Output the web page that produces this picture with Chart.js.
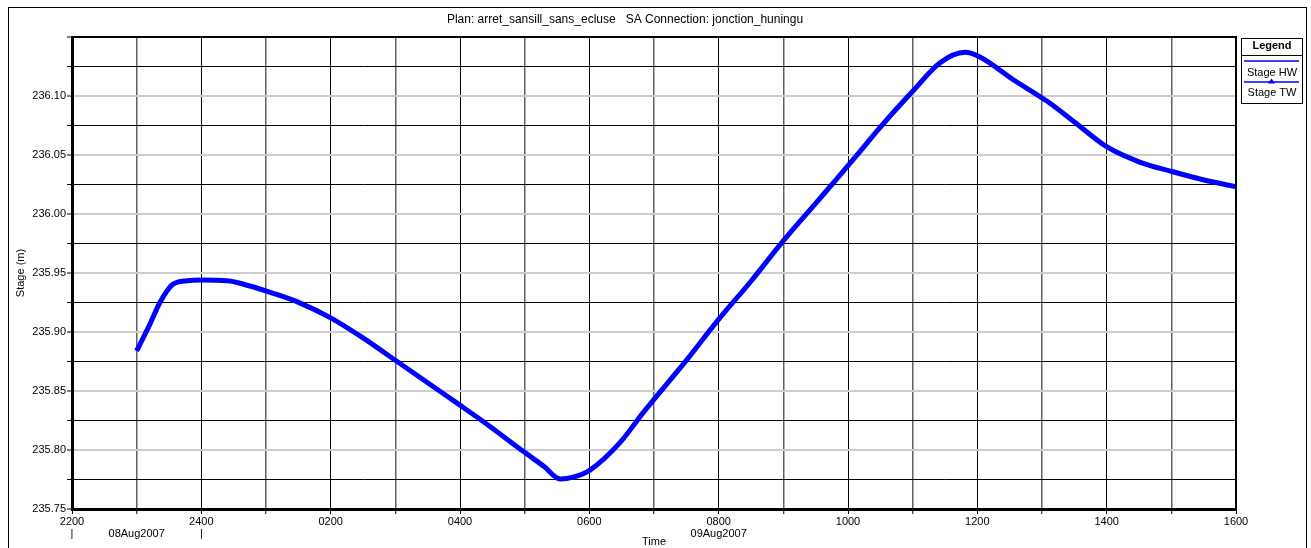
<!DOCTYPE html>
<html>
<head>
<meta charset="utf-8">
<script src="https://cdn.jsdelivr.net/npm/chart.js@4.4.0/dist/chart.umd.min.js"></script>
<style>
html, body { margin: 0; padding: 0; background: #fff; }
</style>
</head>
<body>
<canvas id="stageChart" width="1311" height="548"></canvas>
<script>
const chartTitle = 'Plan: arret_sansill_sans_ecluse   SA Connection: jonction_huningu';

// hours counted from 08Aug2007 2200
const hours = [1.0, 1.2, 1.36, 1.55, 1.78, 2.0, 2.4, 2.75, 3.1, 3.53,
    4.0, 4.5, 5.0, 5.5, 6.0, 6.31, 7.0, 7.3, 7.55, 7.75,
    8.01, 8.47, 8.83, 9.5, 9.99, 10.5, 10.98, 11.5, 11.83, 12.2,
    12.49, 13.0, 13.42, 13.81, 14.04, 14.55, 15.08, 15.5, 16.0,
    16.51, 17.01, 17.49, 18.0];

const stageHW = [235.884, 235.906, 235.925, 235.940, 235.9435, 235.944, 235.9435, 235.939, 235.933, 235.9245,
    235.912, 235.895, 235.876, 235.857, 235.838, 235.826, 235.798, 235.786, 235.7755, 235.777,
    235.783, 235.806, 235.8315, 235.876, 235.910, 235.943, 235.976, 236.009, 236.030, 236.054,
    236.073, 236.104, 236.128, 236.137, 236.133, 236.114, 236.0955, 236.078, 236.057,
    236.044, 236.036, 236.029, 236.023];

// tail water sits right on top of head water in this plot
const stageTW = stageHW;

const xTickLabels = ['2200', '', '2400', '', '0200', '', '0400', '', '0600', '', '0800', '', '1000', '', '1200', '', '1400', '', '1600'];
const dateLabels = {1: '08Aug2007', 10: '09Aug2007'};
const dayMarks = [0, 2];

const FONT = 'Liberation Sans, Arial, sans-serif';

function toPoints(ys) {
    return hours.map((h, i) => ({x: h, y: ys[i]}));
}

const framePlugin = {
    id: 'frame',
    afterDraw(chart) {
        const ctx = chart.ctx;
        const a = chart.chartArea;
        ctx.save();
        // outer frame
        ctx.strokeStyle = '#000';
        ctx.lineWidth = 1;
        ctx.strokeRect(8.5, 7.5, 1298, 600);

        // top and right border of plot
        ctx.lineWidth = 2;
        ctx.beginPath();
        ctx.moveTo(a.left, a.top);
        ctx.lineTo(a.right, a.top);
        ctx.lineTo(a.right, a.bottom);
        ctx.stroke();

        // title
        ctx.fillStyle = '#000';
        ctx.font = '12px ' + FONT;
        ctx.textAlign = 'center';
        ctx.textBaseline = 'middle';
        ctx.fillText(chartTitle, 625, 20);

        // legend box
        ctx.lineWidth = 1;
        ctx.strokeRect(1241.5, 38.5, 61, 65);
        ctx.beginPath();
        ctx.moveTo(1241, 55.5);
        ctx.lineTo(1302, 55.5);
        ctx.stroke();
        ctx.font = 'bold 11px ' + FONT;
        ctx.fillText('Legend', 1272, 46);
        ctx.font = '11px ' + FONT;
        ctx.strokeStyle = '#0000ff';
        ctx.lineWidth = 1.5;
        ctx.beginPath();
        ctx.moveTo(1244, 61);
        ctx.lineTo(1299, 61);
        ctx.moveTo(1244, 82);
        ctx.lineTo(1299, 82);
        ctx.stroke();
        ctx.fillStyle = '#0000ff';
        ctx.beginPath();
        ctx.moveTo(1271.5, 78.5);
        ctx.lineTo(1275, 83.5);
        ctx.lineTo(1268, 83.5);
        ctx.closePath();
        ctx.fill();
        ctx.fillStyle = '#000';
        ctx.fillText('Stage HW', 1272, 73);
        ctx.fillText('Stage TW', 1272, 93);
        ctx.restore();
    }
};

new Chart(document.getElementById('stageChart').getContext('2d'), {
    type: 'line',
    data: {
        datasets: [
            {
                label: 'Stage HW',
                data: toPoints(stageHW),
                borderColor: '#0000ff',
                borderWidth: 5,
                pointRadius: 0,
                fill: false,
                cubicInterpolationMode: 'monotone'
            },
            {
                label: 'Stage TW',
                data: toPoints(stageTW),
                borderColor: '#0000ff',
                borderWidth: 2,
                pointRadius: 0,
                fill: false,
                cubicInterpolationMode: 'monotone'
            }
        ]
    },
    options: {
        responsive: false,
        animation: false,
        layout: {padding: {top: 37, right: 75, left: 0, bottom: 0}},
        plugins: {legend: {display: false}, tooltip: {enabled: false}},
        scales: {
            x: {
                type: 'linear',
                min: 0,
                max: 18,
                afterFit(scale) { scale.height = 39; },
                ticks: {
                    stepSize: 1,
                    autoSkip: false,
                    maxRotation: 0,
                    padding: 2,
                    color: '#000',
                    font: {family: FONT, size: 11, lineHeight: 1.1},
                    callback(value) {
                        const lbl = xTickLabels[value] || '';
                        if (dayMarks.includes(value)) return [lbl, '|'];
                        if (dateLabels[value]) return [lbl, dateLabels[value]];
                        return lbl;
                    }
                },
                grid: {
                    color: (c) => (c.tick && c.tick.value % 2 === 1) ? '#606060' : '#000',
                    lineWidth: (c) => (c.tick && c.tick.value % 2 === 1) ? 1.5 : 1,
                    tickLength: 5,
                    tickColor: '#000',
                    tickWidth: 1
                },
                border: {color: '#000', width: 3},
                title: {
                    display: true,
                    text: 'Time',
                    color: '#000',
                    font: {family: FONT, size: 11, lineHeight: 1.1},
                    padding: {top: -2, bottom: 0}
                }
            },
            y: {
                min: 235.75,
                max: 236.15,
                afterFit(scale) { scale.width = 72; },
                ticks: {
                    stepSize: 0.025,
                    padding: 1,
                    color: '#000',
                    font: {family: FONT, size: 11},
                    callback(value, index) {
                        return index % 2 === 0 && index < 16 ? value.toFixed(2) : '';
                    }
                },
                grid: {
                    color: (c) => c.index % 2 === 0 ? '#cccccc' : '#000',
                    lineWidth: (c) => c.index % 2 === 0 ? 2 : 1,
                    tickLength: 5,
                    tickColor: '#000',
                    tickWidth: 1
                },
                border: {color: '#000', width: 3},
                title: {
                    display: true,
                    text: 'Stage (m)',
                    color: '#000',
                    font: {family: FONT, size: 11},
                    padding: {top: 14, bottom: 0}
                }
            }
        }
    },
    plugins: [framePlugin]
});
</script>
</body>
</html>
